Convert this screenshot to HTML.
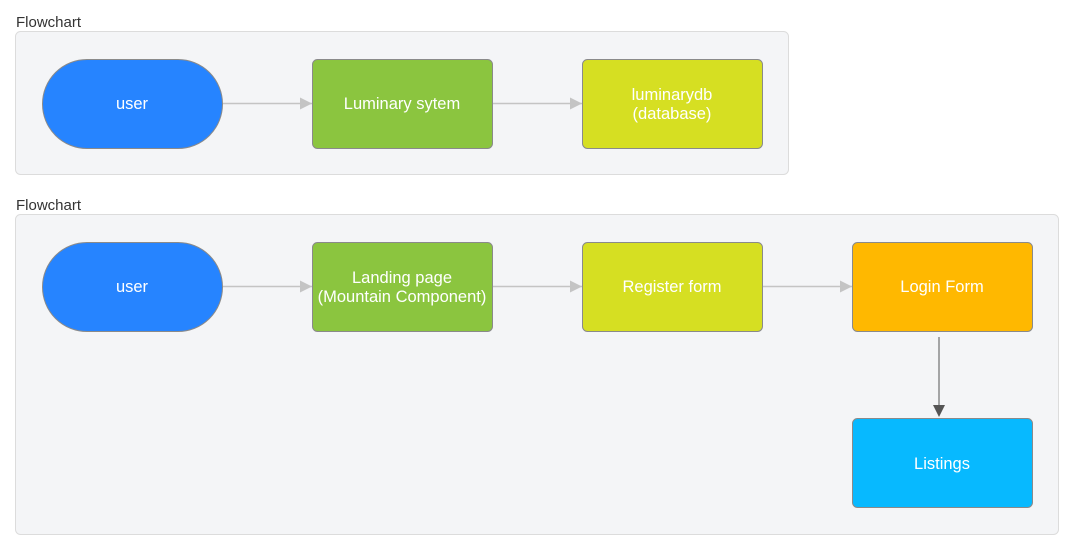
<!DOCTYPE html>
<html><head><meta charset="utf-8"><style>
html,body{margin:0;padding:0;background:#fff;}
svg{display:block;font-family:"Liberation Sans",Arial,sans-serif;}
</style></head><body>
<svg width="1071" height="552" viewBox="0 0 1071 552" xmlns="http://www.w3.org/2000/svg">
<defs>
<marker id="ag" markerWidth="13" markerHeight="13" refX="12" refY="6" orient="auto" markerUnits="userSpaceOnUse"><path d="M0,0 L12,6 L0,12 z" fill="#c4c4c4"/></marker>
</defs>
<text x="16" y="27" font-size="15" fill="#333">Flowchart</text>
<rect x="15.5" y="31.5" width="773" height="143" rx="5" fill="#f4f5f7" stroke="#dcdcdc"/>
<text x="16" y="210" font-size="15" fill="#333">Flowchart</text>
<rect x="15.5" y="214.5" width="1043" height="320" rx="5" fill="#f4f5f7" stroke="#dcdcdc"/>

<g stroke="#c4c4c4" stroke-width="1.5">
<line x1="222" y1="103.5" x2="312" y2="103.5" marker-end="url(#ag)"/>
<line x1="492" y1="103.5" x2="582" y2="103.5" marker-end="url(#ag)"/>
<line x1="222" y1="286.5" x2="312" y2="286.5" marker-end="url(#ag)"/>
<line x1="492" y1="286.5" x2="582" y2="286.5" marker-end="url(#ag)"/>
<line x1="762" y1="286.5" x2="852" y2="286.5" marker-end="url(#ag)"/>
</g>
<line x1="939" y1="337" x2="939" y2="406" stroke="#8a8a8a" stroke-width="1.5"/>
<path d="M933,405 L945,405 L939,417 z" fill="#555"/>

<g stroke="#8a8a8a" stroke-width="1">
<rect x="42.5" y="59.5" width="180" height="89" rx="44.5" fill="#2684ff"/>
<rect x="312.5" y="59.5" width="180" height="89" rx="5" fill="#8bc53f"/>
<rect x="582.5" y="59.5" width="180" height="89" rx="5" fill="#d6df22"/>
<rect x="42.5" y="242.5" width="180" height="89" rx="44.5" fill="#2684ff"/>
<rect x="312.5" y="242.5" width="180" height="89" rx="5" fill="#8bc53f"/>
<rect x="582.5" y="242.5" width="180" height="89" rx="5" fill="#d6df22"/>
<rect x="852.5" y="242.5" width="180" height="89" rx="5" fill="#ffb800"/>
<rect x="852.5" y="418.5" width="180" height="89" rx="5" fill="#07b9ff"/>
</g>
<g fill="#fff" font-size="16.5" text-anchor="middle">
<text x="132" y="109">user</text>
<text x="402" y="109">Luminary sytem</text>
<text x="672" y="100">luminarydb</text>
<text x="672" y="119">(database)</text>
<text x="132" y="292">user</text>
<text x="402" y="283">Landing page</text>
<text x="402" y="302">(Mountain Component)</text>
<text x="672" y="292">Register form</text>
<text x="942" y="292">Login Form</text>
<text x="942" y="469">Listings</text>
</g>
</svg>
</body></html>
